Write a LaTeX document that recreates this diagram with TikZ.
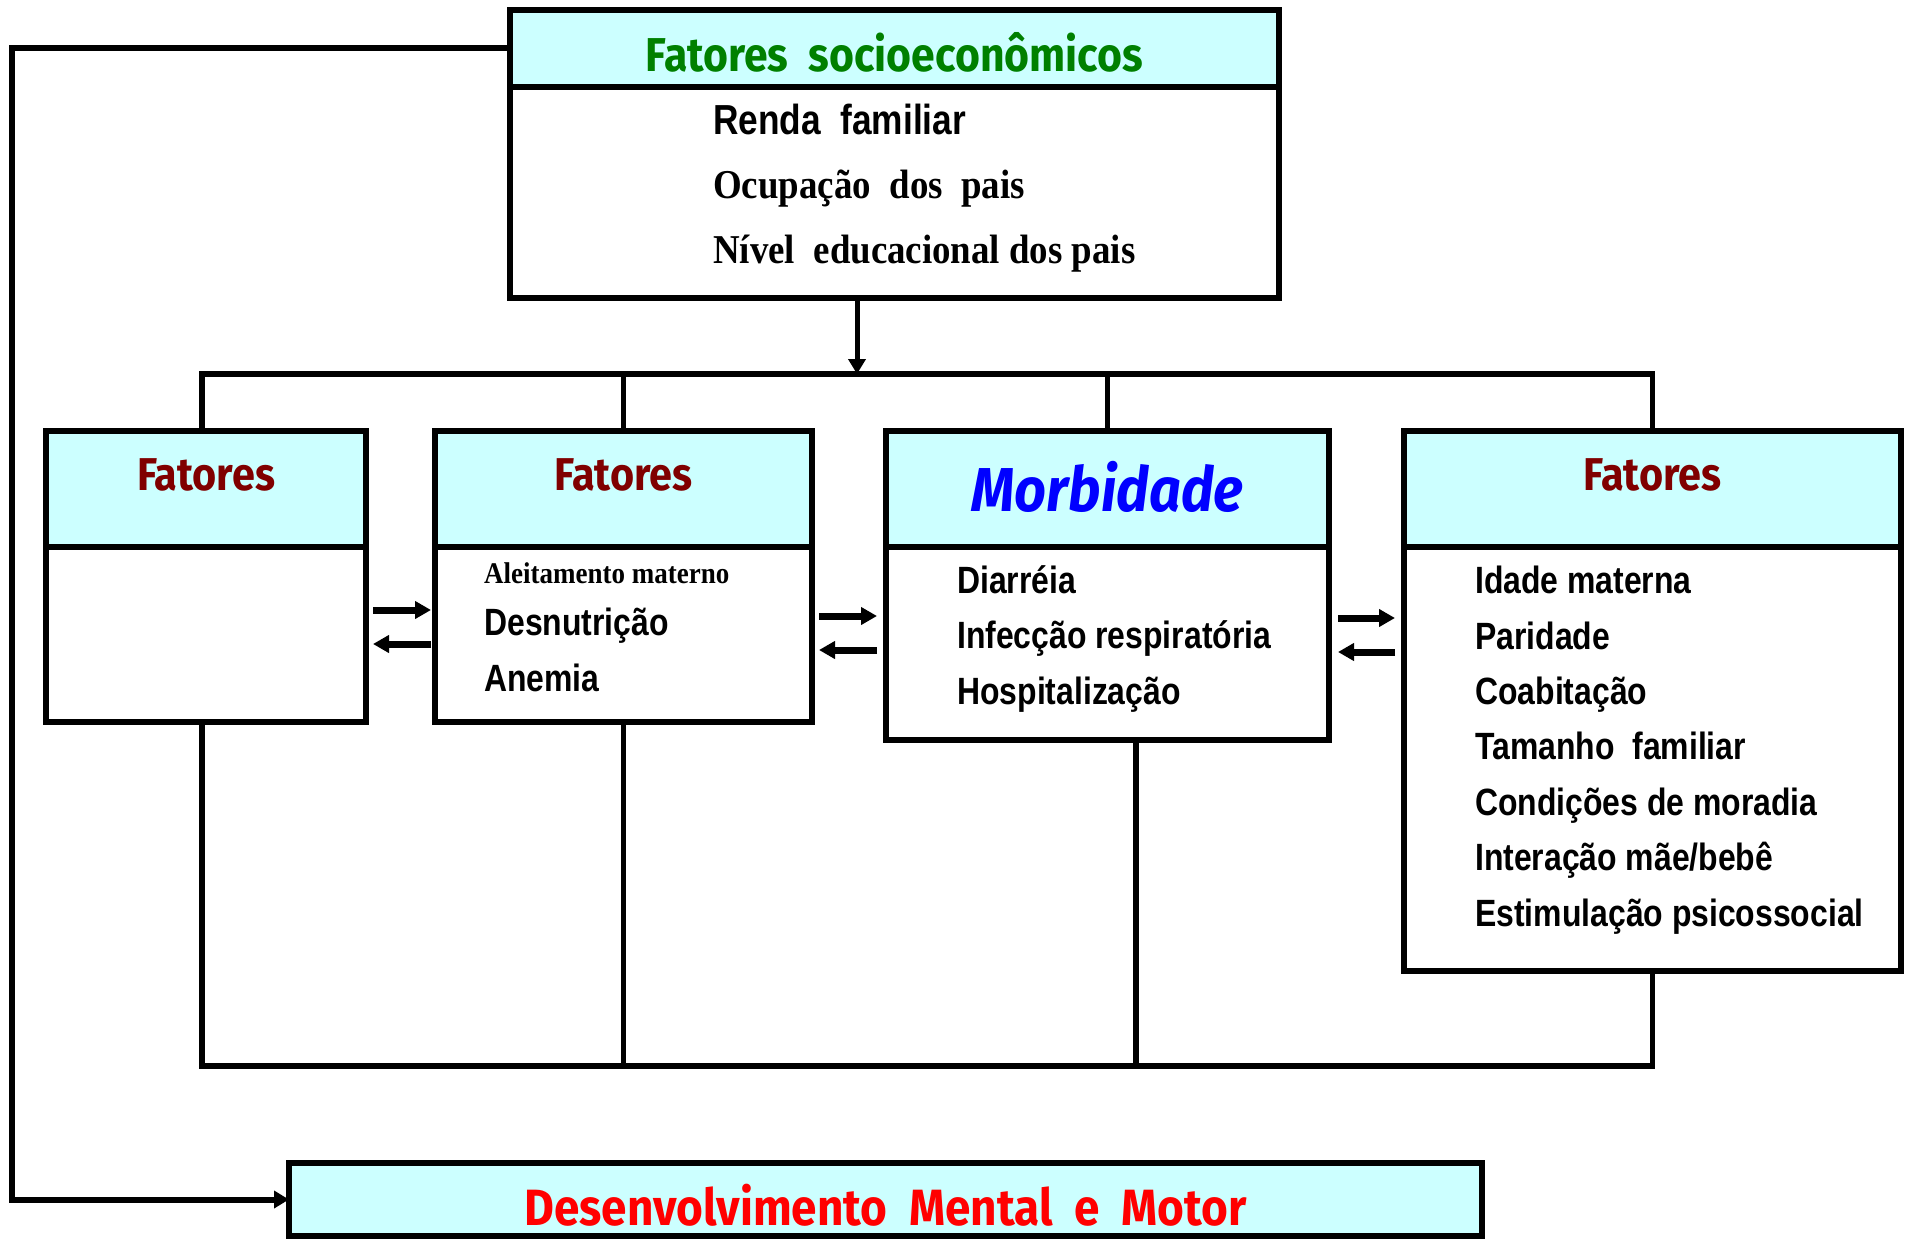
\documentclass[tikz,border=0pt]{standalone}
\usepackage{fontspec}
\setmainfont{Liberation Serif}
\newfontfamily\sansf{Liberation Sans}[FakeStretch=0.84]
\newfontfamily\serff{Liberation Serif}[FakeStretch=0.9]
\newfontfamily\titlef{Fira Sans}[FakeStretch=0.9]
\usepackage{xcolor}
\usetikzlibrary{arrows.meta,positioning}

\definecolor{headcyan}{RGB}{204,255,255}
\definecolor{socgreen}{RGB}{0,128,0}
\definecolor{fatred}{RGB}{128,0,0}
\definecolor{morbblue}{RGB}{0,0,255}
\definecolor{devred}{RGB}{255,0,0}

\begin{document}
\begin{tikzpicture}[x=1pt, y=1pt,
  box/.style={draw, line width=6pt, fill=white, inner sep=0pt, outer sep=0pt},
  hdr/.style={box, fill=headcyan, align=center},
  fat/.style={hdr, font=\titlef\bfseries\fontsize{46}{50}\selectfont, text=fatred, text height=33pt, text depth=30pt},
  item/.style={anchor=base west, align=left, inner sep=0pt, font=\sansf\bfseries\fontsize{38}{55.4}\selectfont},
  link/.style={line width=5.5pt},
  arr/.style={-{Triangle[length=16pt,width=17pt]}, line width=7pt}
]
\useasboundingbox (0,0) rectangle (1905,-1239);

% socioeconomic block
\node[box, minimum width=769pt, minimum height=288pt, anchor=north west] (socio) at (510,-10) {};
\node[hdr, minimum width=769pt, minimum height=77pt, anchor=north, font=\titlef\bfseries\fontsize{47.5}{50}\selectfont, text=socgreen, text height=46pt, text depth=0pt] (socioH) at (socio.north) {Fatores~ socioeconômicos};
% base of a multi-line node = last line
\node[item, font=\serff\bfseries\fontsize{41}{64.5}\selectfont] (socioT) at (713,-263) {{\sansf\fontsize{42}{64.5}\selectfont Renda~ familiar}\\Ocupação~ dos~ pais\\Nível~ educacional dos pais};

% factor boxes
\node[box, minimum width=320pt, minimum height=291pt, anchor=north west] (b1) at (46,-431) {};
\node[box, minimum width=377pt, minimum height=291pt, right=69pt of b1.north east, anchor=north west] (b2) {};
\node[box, minimum width=443pt, minimum height=309pt, right=74pt of b2.north east, anchor=north west] (b3) {};
\node[box, minimum width=497pt, minimum height=540pt, right=75pt of b3.north east, anchor=north west] (b4) {};

\node[fat, minimum width=320pt, minimum height=116pt, anchor=north] (h1) at (b1.north) {Fatores};
\node[fat, minimum width=377pt, minimum height=116pt, anchor=north] (h2) at (b2.north) {Fatores};
\node[hdr, minimum width=443pt, minimum height=116pt, anchor=north, font=\titlef\bfseries\itshape\fontsize{62}{66}\selectfont, text=morbblue, text height=44pt, text depth=0pt] (h3) at (b3.north) {Morbidade};
\node[fat, minimum width=497pt, minimum height=116pt, anchor=north] (h4) at (b4.north) {Fatores};

\node[item, font=\serff\bfseries\fontsize{30}{34}\selectfont] (t2a) at (484,-583) {Aleitamento materno};
\node[item, font=\sansf\bfseries\fontsize{38}{56}\selectfont] (t2b) at (484,-691.5) {Desnutrição\\Anemia};
\node[item] (t3) at (957,-704.3) {Diarréia\\Infecção respiratória\\Hospitalização};
\node[item] (t4) at (1475,-926) {Idade materna\\Paridade\\Coabitação\\Tamanho~ familiar\\Condições de moradia\\Interação mãe/bebê\\Estimulação psicossocial};

% outcome
\node[hdr, minimum width=1193pt, minimum height=73pt, anchor=north west, font=\titlef\bfseries\fontsize{51}{54}\selectfont, text=devred, text height=52pt, text depth=0pt] (dmm) at (289,-1163) {Desenvolvimento~ Mental~ e~ Motor};

% buses
\coordinate (bus) at (0,-374);
\coordinate (base) at (0,-1066);
\coordinate (drop) at ([xshift=-37.5pt]socio.south);
\coordinate (b1in) at ([xshift=-4pt]b1.north);
\coordinate (b1out) at ([xshift=-4pt]b1.south);
\coordinate (b3out) at ([xshift=28.5pt]b3.south);

\draw[link] (b1in) -- (b1in |- bus) -- (b4.north |- bus) -- (b4.north);
\draw[link] (b2.north) -- (b2.north |- bus);
\draw[link] (b3.north) -- (b3.north |- bus);
\draw[link, line width=5pt, -{Triangle[length=15pt,width=17pt]}] (drop) -- (drop |- bus);

\draw[link] (b1out) -- (b1out |- base) -- (b4.south |- base) -- (b4.south);
\draw[link] (b2.south) -- (b2.south |- base);
\draw[link] (b3out) -- (b3out |- base);

% two-way arrows
\draw[arr, shorten <=7pt, shorten >=4pt] (b1.east |- 0,-610) -- (b2.west |- 0,-610);
\draw[arr, shorten <=4pt, shorten >=7pt] (b2.west |- 0,-644) -- (b1.east |- 0,-644);
\draw[arr, shorten <=7pt, shorten >=9pt] (b2.east |- 0,-616) -- (b3.west |- 0,-616);
\draw[arr, shorten <=9pt, shorten >=7pt] (b3.west |- 0,-650) -- (b2.east |- 0,-650);
\draw[arr, shorten <=9pt, shorten >=9pt] (b3.east |- 0,-618) -- (b4.west |- 0,-618);
\draw[arr, shorten <=9pt, shorten >=9pt] (b4.west |- 0,-652) -- (b3.east |- 0,-652);

% feedback
\draw[arr, line width=6pt, -{Triangle[length=15pt,width=17pt]}] (socioH.west) -- ++(-498,0) |- (dmm.west);
\end{tikzpicture}
\end{document}
